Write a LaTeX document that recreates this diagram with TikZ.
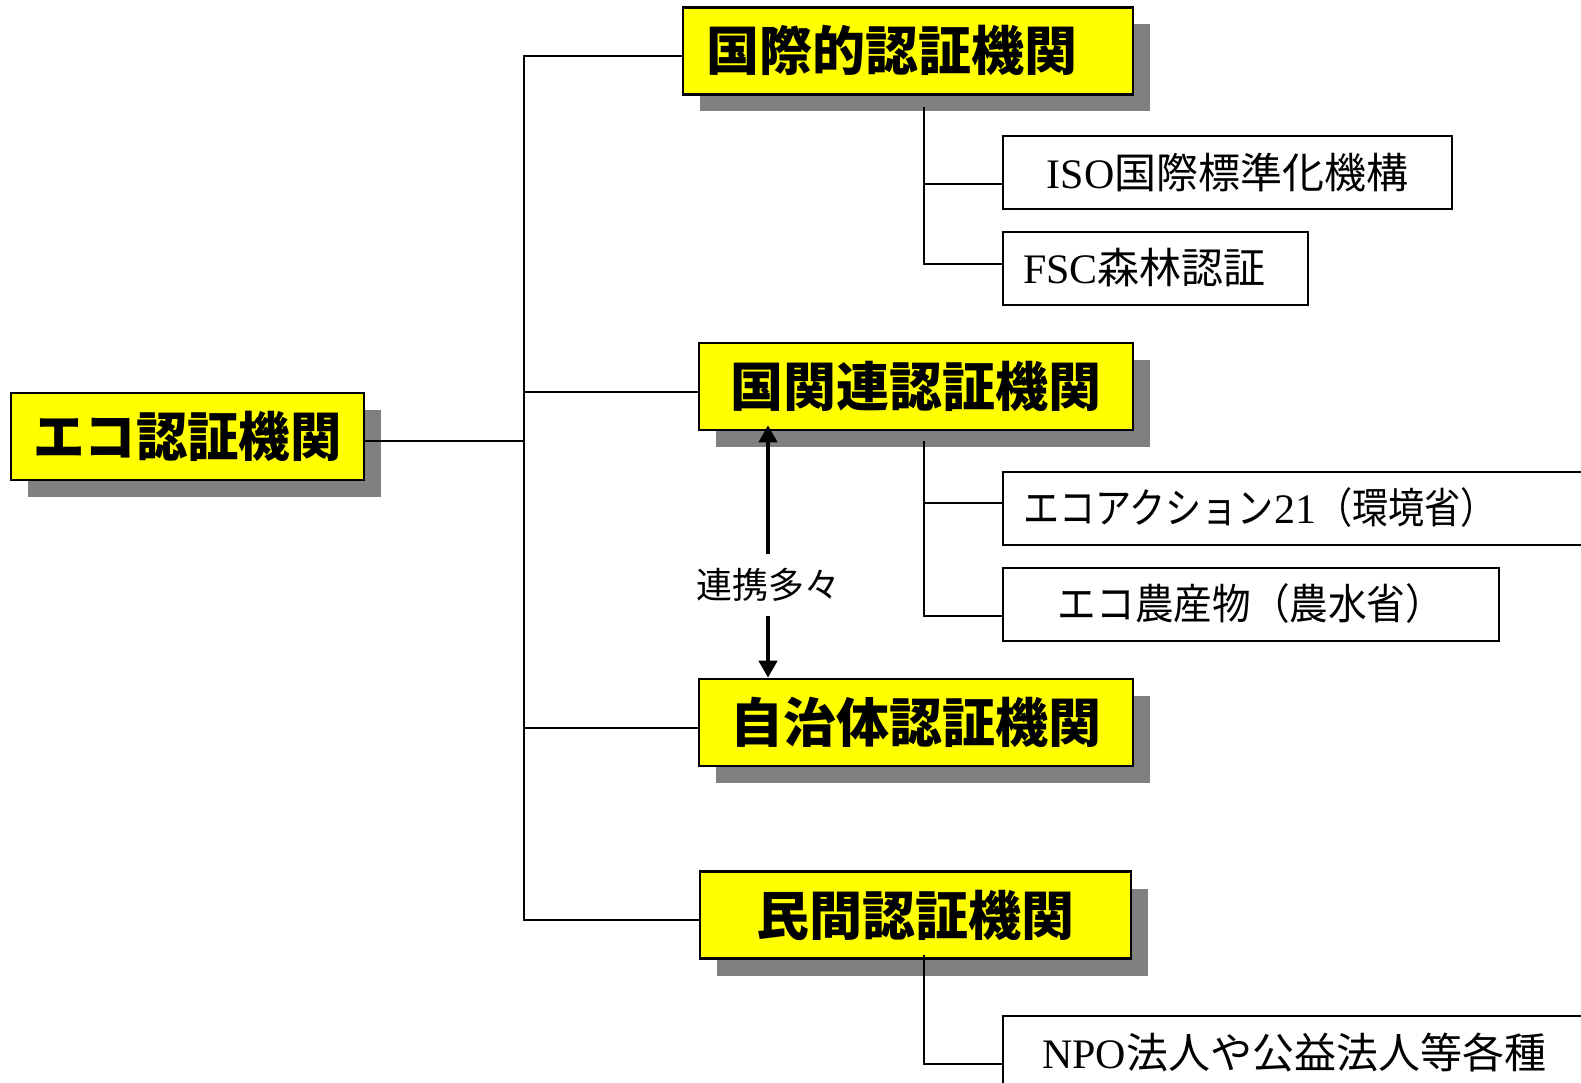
\documentclass[tikz,border=0pt]{standalone}
\usepackage{fontspec}
\setmainfont{Noto Sans CJK JP}
\newfontfamily\tm{Liberation Serif}
\usetikzlibrary{calc,arrows.meta,shadows}
\definecolor{shd}{HTML}{808080}
\definecolor{ylw}{HTML}{FFFF00}
\begin{document}
\begin{tikzpicture}[x=1pt,y=-1pt,
  mainbox/.style={draw=black,line width=2.6pt,fill=ylw,minimum height=87pt,inner sep=0pt,
    font=\fontsize{53}{60}\selectfont\bfseries,
    drop shadow={shadow xshift=17pt,shadow yshift=-17pt,fill=shd,opacity=1}},
  subbox/.style={draw=black,line width=2pt,fill=white,minimum height=73pt,inner sep=0pt,
    font=\fontsize{42}{48}\selectfont},
  conn/.style={line width=2pt},
  arr/.style={line width=4.5pt,-{Triangle[width=18pt,length=17pt]}}]
\useasboundingbox (0,0) rectangle (1581,1082);
\fill[white] (0,0) rectangle (1581,1082);

% main boxes
\node[mainbox,minimum width=353pt] (eco) at (187.5,436.5) {\addfontfeature{FakeStretch=0.97}エコ認証機関};
\node[mainbox,minimum width=450pt,text width=404pt,align=left,inner xsep=23pt] (b1) at (908,50.7) {国際的認証機関};
\node[mainbox,minimum width=434pt] (b2) at (916,386.5) {国関連認証機関};
\node[mainbox,minimum width=434pt] (b3) at (916,722.5) {自治体認証機関};
\node[mainbox,minimum width=431pt] (b4) at (915.5,915) {民間認証機関};

% sub boxes
\node[subbox,minimum width=449pt] (iso) at (1227.5,172) {{\tm ISO}国際標準化機構};
\node[subbox,minimum width=305pt,text width=265pt,align=left,inner xsep=20pt] (fsc) at (1155.5,268) {{\tm FSC}森林認証};
\node[subbox,minimum width=630pt,text width=590pt,align=left,inner xsep=20pt] (eco21) at (1318,508) {\addfontfeature{FakeStretch=0.86}エコアクション{\tm 21}（環境省）};
\node[subbox,minimum width=496pt] (agri) at (1251,604) {\addfontfeature{FakeStretch=0.92}エコ農産物（農水省）};
\node[subbox,minimum width=582pt] (npo) at (1294,1052) {{\tm NPO}法人や公益法人等各種};

% link label
\node[font=\fontsize{36}{40}\selectfont,inner sep=0pt,outer ysep=14pt] (lnk) at (768,585) {連携多々};

% trunk connectors
\coordinate (T) at (524,0);
\coordinate (S) at (923.6,0);
\coordinate (e0) at ([yshift=-4pt]eco.east);
\coordinate (t1) at ([yshift=-5pt]b1.west);
\coordinate (t2) at ([yshift=-5pt]b2.west);
\coordinate (t3) at ([yshift=-5pt]b3.west);
\coordinate (t4) at ([yshift=-5pt]b4.west);
\draw[conn] (e0) -- (e0 -| T);
\draw[conn] (t1) -| (T |- t4) -- (t4);
\draw[conn] (t2) -- (t2 -| T);
\draw[conn] (t3) -- (t3 -| T);

% sub connectors
\coordinate (s1) at ($(b1.south -| S)+(0,11)$);
\coordinate (s2) at ($(b2.south -| S)+(0,10)$);
\coordinate (s4) at ($(b4.south -| S)+(0,-5)$);
\coordinate (iso0) at ([yshift=-11.5pt]iso.west);
\coordinate (fsc0) at ([yshift=4pt]fsc.west);
\coordinate (eco0) at ([yshift=5pt]eco21.west);
\coordinate (agri0) at ([yshift=-11.5pt]agri.west);
\coordinate (npo0) at ([yshift=-12pt]npo.west);
\draw[conn] (s1) |- (fsc0);
\draw[conn] (iso0) -- (iso0 -| S);
\draw[conn] (s2) |- (agri0);
\draw[conn] (eco0) -- (eco0 -| S);
\draw[conn] (s4) |- (npo0);

% link arrows
\draw[arr] (lnk.north) -- ($(lnk.north |- b2.south)+(0,-6)$);
\draw[arr] (lnk.south) -- (lnk.south |- b3.north);
\end{tikzpicture}
\end{document}
